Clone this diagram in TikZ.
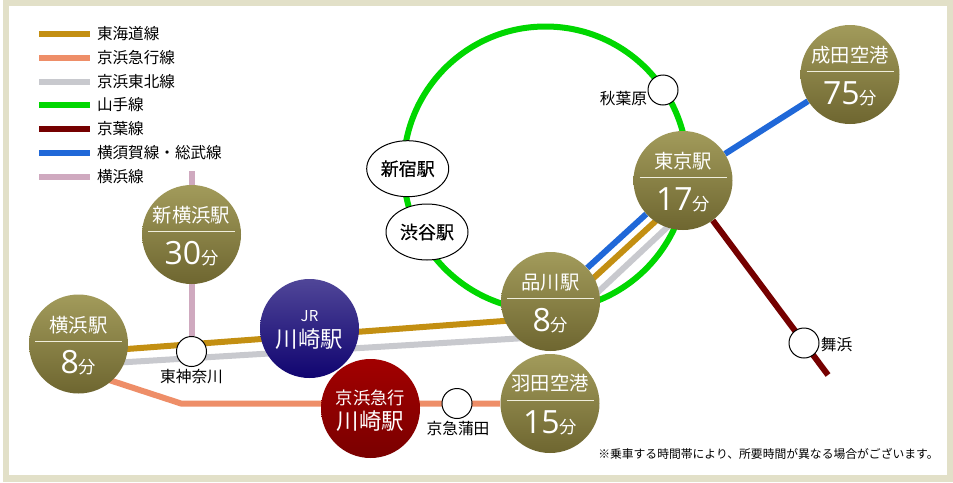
\documentclass[tikz,border=0pt]{standalone}
\usepackage{fontspec}
\setmainfont{Noto Sans CJK JP}
\newfontfamily\digitfont{Open Sans}
\newfontfamily\stationfont[FakeBold=0.4]{Noto Sans CJK JP}
\usetikzlibrary{calc, backgrounds, shapes.geometric}
\definecolor{framecolor}{HTML}{E2E0C8}
\definecolor{tokaidocolor}{HTML}{C38F12}
\definecolor{keikyucolor}{HTML}{EE8E68}
\definecolor{tohokucolor}{HTML}{C8C9CE}
\definecolor{yamanotecolor}{HTML}{00D700}
\definecolor{keiyocolor}{HTML}{750000}
\definecolor{sobucolor}{HTML}{2068D8}
\definecolor{yokohamacolor}{HTML}{CFA9BF}
\newcommand{\fun}{{\rmfamily\fontsize{13}{13}\selectfont 分}}
\tikzset{
    railline/.style={line width=4.5pt},
    goldstn/.style={circle, minimum size=74.25pt, inner sep=0pt, top color={rgb,255:red,162;green,155;blue,91}, bottom color={rgb,255:red,110;green,102;blue,48}},
    stnname/.style={text=white, inner sep=0pt, font=\fontsize{14.5}{15}\selectfont},
    stntime/.style={text=white, inner sep=0pt, font=\digitfont\fontsize{24}{24}\selectfont},
    sepline/.style={draw={rgb,255:red,240;green,238;blue,220}, line width=0.75pt},
    smallstn/.style={circle, draw=black, fill=white, line width=0.75pt, minimum size=22.5pt, inner sep=0pt},
    bigstn/.style={ellipse, draw=black, fill=white, line width=0.75pt, minimum width=61.5pt, minimum height=42pt, inner sep=0pt, font=\stationfont\fontsize{13.5}{14}\selectfont},
    smalltext/.style={inner sep=0pt, font=\fontsize{11.8}{12}\selectfont},
    legendtext/.style={inner sep=0pt, anchor=west, text=black, font=\fontsize{11.7}{12}\selectfont}
}

\begin{document}
\begin{tikzpicture}[x=0.75pt,y=-0.75pt]
    \useasboundingbox (0,0) rectangle (953,482);
    %stazioni
    \node[goldstn] (yokohama) at (78.5,344) {};
    \node[goldstn] (shinyokohama) at (191.5,234.5) {};
    \node[circle, minimum size=74.25pt, inner sep=0pt, top color={rgb,255:red,80;green,70;blue,152}, bottom color={rgb,255:red,16;green,4;blue,112}] (jrkawasaki) at (309.5,328.5) {};
    \node[circle, minimum size=74.25pt, inner sep=0pt, top color={rgb,255:red,162;green,0;blue,0}, bottom color={rgb,255:red,122;green,0;blue,0}] (kqkawasaki) at (370.5,408.5) {};
    \node[goldstn] (shinagawa) at (550.5,301.5) {};
    \node[goldstn] (tokyo) at (683,180.5) {};
    \node[goldstn] (haneda) at (550,403.5) {};
    \node[goldstn] (narita) at (850,74.5) {};
    \node[smallstn] (higashikanagawa) at (191.5,351.5) {};
    \node[smallstn] (akihabara) at (663,90) {};
    \node[smallstn] (kamata) at (457,403.5) {};
    \node[smallstn] (maihama) at (804,343) {};
    \node[bigstn] (shinjuku) at (407.7,168.7) {新宿駅};
    \node[bigstn] (shibuya) at (427,232) {渋谷駅};
    \coordinate (yokohamaend) at (191.5,171);
    \coordinate (keiyoend) at (828,375);
    \coordinate (keikyubend) at (181,403.5);
    %testi nei cerchi
    \node[stnname] (yokohamaname) at ($(yokohama)+(0,-19)$) {横浜駅};
    \node[stntime] (yokohamatime) at ($(yokohama)+(0,19)$) {8\fun};
    \draw[sepline] ($(yokohama)+(-43.5,-3)$)--++ (87,0);
    \node[stnname] (shinyokohamaname) at ($(shinyokohama)+(0,-19)$) {新横浜駅};
    \node[stntime] (shinyokohamatime) at ($(shinyokohama)+(0,19)$) {30\fun};
    \draw[sepline] ($(shinyokohama)+(-43.5,-3)$)--++ (87,0);
    \node[stnname] (shinagawaname) at ($(shinagawa)+(0,-19)$) {品川駅};
    \node[stntime] (shinagawatime) at ($(shinagawa)+(0,19)$) {8\fun};
    \draw[sepline] ($(shinagawa)+(-43.5,-3)$)--++ (87,0);
    \node[stnname] (tokyoname) at ($(tokyo)+(0,-19)$) {東京駅};
    \node[stntime] (tokyotime) at ($(tokyo)+(0,19)$) {17\fun};
    \draw[sepline] ($(tokyo)+(-43.5,-3)$)--++ (87,0);
    \node[stnname] (hanedaname) at ($(haneda)+(0,-20)$) {羽田空港};
    \node[stntime] (hanedatime) at ($(haneda)+(0,19)$) {15\fun};
    \draw[sepline] ($(haneda)+(-43.5,-3)$)--++ (87,0);
    \node[stnname] (naritaname) at ($(narita)+(0,-19)$) {成田空港};
    \node[stntime] (naritatime) at ($(narita)+(0,19)$) {75\fun};
    \draw[sepline] ($(narita)+(-43.5,-3)$)--++ (87,0);
    \node[text=white, inner sep=0pt, font=\fontsize{11.25}{12}\selectfont] (jrname) at ($(jrkawasaki)+(0,-12)$) {JR};
    \node[text=white, inner sep=0pt, font=\fontsize{16.8}{17}\selectfont] (jrkawasakiname) at ($(jrkawasaki)+(0,11)$) {川崎駅};
    \node[text=white, inner sep=0pt, font=\fontsize{13}{14}\selectfont] (kqname) at ($(kqkawasaki)+(0,-11)$) {京浜急行};
    \node[text=white, inner sep=0pt, font=\fontsize{16.8}{17}\selectfont] (kqkawasakiname) at ($(kqkawasaki)+(0,12.5)$) {川崎駅};
    %nomi delle fermate
    \node[smalltext] (higashikanagawaname) at (191.5,376.5) {東神奈川};
    \node[smalltext] (akihabaraname) at (623.5,99) {秋葉原};
    \node[smalltext] (kamataname) at (458,428) {京急蒲田};
    \node[smalltext] (maihamaname) at (836.5,345) {舞浜};
    \node[inner sep=0pt, anchor=west, font=\fontsize{8.85}{10}\selectfont] (notetext) at (598,454) {※乗車する時間帯により、所要時間が異なる場合がございます。};
    \begin{pgfonlayer}{background}
        %cornice
        \fill[framecolor] (3,0) rectangle (953,482);
        \fill[white] (9,6) rectangle (947,475);
        %legenda
        \draw[railline, tokaidocolor] (39,33.5)--++ (51,0) node[legendtext, xshift=3pt] (legtokaido) {東海道線};
        \draw[railline, keikyucolor] (39,57.5)--++ (51,0) node[legendtext, xshift=3pt] (legkeikyu) {京浜急行線};
        \draw[railline, tohokucolor] (39,81.5)--++ (51,0) node[legendtext, xshift=3pt] (legtohoku) {京浜東北線};
        \draw[railline, yamanotecolor] (39,105)--++ (51,0) node[legendtext, xshift=3pt] (legyamanote) {山手線};
        \draw[railline, keiyocolor] (39,129)--++ (51,0) node[legendtext, xshift=3pt] (legkeiyo) {京葉線};
        \draw[railline, sobucolor] (39,153)--++ (51,0) node[legendtext, xshift=3pt] (legsobu) {横須賀線・総武線};
        \draw[railline, yokohamacolor] (39,176.5)--++ (51,0) node[legendtext, xshift=3pt] (legyokohama) {横浜線};
        %linee
        \draw[railline, yamanotecolor] (545.5,168.5) circle (142);
        \draw[railline, yokohamacolor] (yokohamaend)--(higashikanagawa);
        \draw[railline, sobucolor] (shinagawa)--(tokyo)--(narita);
        \draw[railline, tokaidocolor] ($(yokohama)+(0,8.6)$)--($(shinagawa)+(0,16)$)--($(tokyo)+(0,15.5)$);
        \draw[railline, tohokucolor] ($(yokohama)+(0,21)$)--($(shinagawa)+(0,35)$)--($(tokyo)+(0,32)$);
        \draw[railline, keikyucolor] ($(yokohama)+(0,26)$)--(keikyubend)--(haneda);
        \draw[railline, keiyocolor] (tokyo)--(keiyoend);
    \end{pgfonlayer}
\end{tikzpicture}
\end{document}
